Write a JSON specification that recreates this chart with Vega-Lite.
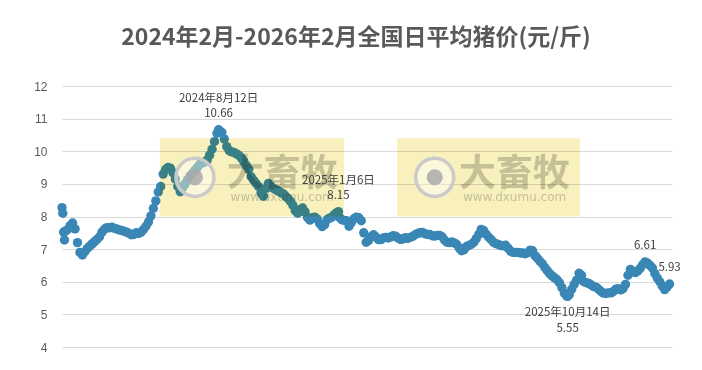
{
  "$schema": "https://vega.github.io/schema/vega-lite/v6.json",
  "width": 610,
  "height": 261,
  "autosize": {"type": "none"},
  "padding": {"left": 62, "top": 86, "right": 30, "bottom": 23},
  "background": "white",
  "config": {"view": {"stroke": null}, "font": "Noto Sans CJK SC"},
  "title": {
    "text": "2024年2月-2026年2月全国日平均猪价(元/斤)",
    "font": "Noto Sans CJK SC",
    "fontSize": 23,
    "fontWeight": "bold",
    "color": "#595959",
    "anchor": "middle",
    "offset": 30,
    "dx": -11
  },
  "datasets": {
    "prices": [
      {"date":"2024-02-02","price":8.27},{"date":"2024-02-03","price":8.10},{"date":"2024-02-04","price":7.52},{"date":"2024-02-05","price":7.28},
      {"date":"2024-02-06","price":7.55},{"date":"2024-02-09","price":7.60},{"date":"2024-02-12","price":7.72},{"date":"2024-02-15","price":7.80},
      {"date":"2024-02-18","price":7.62},{"date":"2024-02-21","price":7.20},{"date":"2024-02-24","price":6.90},{"date":"2024-02-27","price":6.82},
      {"date":"2024-03-01","price":6.92},{"date":"2024-03-04","price":7.02},{"date":"2024-03-07","price":7.09},{"date":"2024-03-10","price":7.16},
      {"date":"2024-03-13","price":7.23},{"date":"2024-03-16","price":7.30},{"date":"2024-03-19","price":7.38},{"date":"2024-03-22","price":7.52},
      {"date":"2024-03-25","price":7.61},{"date":"2024-03-28","price":7.66},{"date":"2024-03-31","price":7.65},{"date":"2024-04-03","price":7.67},
      {"date":"2024-04-06","price":7.64},{"date":"2024-04-09","price":7.62},{"date":"2024-04-12","price":7.59},{"date":"2024-04-15","price":7.57},
      {"date":"2024-04-18","price":7.55},{"date":"2024-04-21","price":7.52},{"date":"2024-04-24","price":7.49},{"date":"2024-04-27","price":7.44},
      {"date":"2024-04-30","price":7.45},{"date":"2024-05-03","price":7.50},{"date":"2024-05-06","price":7.48},{"date":"2024-05-09","price":7.52},
      {"date":"2024-05-12","price":7.60},{"date":"2024-05-15","price":7.70},{"date":"2024-05-18","price":7.83},{"date":"2024-05-21","price":8.02},
      {"date":"2024-05-24","price":8.25},{"date":"2024-05-27","price":8.48},{"date":"2024-05-30","price":8.75},{"date":"2024-06-02","price":8.92},
      {"date":"2024-06-05","price":9.30},{"date":"2024-06-08","price":9.44},{"date":"2024-06-11","price":9.50},{"date":"2024-06-14","price":9.48},
      {"date":"2024-06-17","price":9.34},{"date":"2024-06-20","price":9.15},{"date":"2024-06-23","price":8.92},{"date":"2024-06-26","price":8.76},
      {"date":"2024-06-29","price":8.88},{"date":"2024-07-02","price":9.00},{"date":"2024-07-05","price":9.13},{"date":"2024-07-08","price":9.25},
      {"date":"2024-07-11","price":9.32},{"date":"2024-07-14","price":9.42},{"date":"2024-07-17","price":9.50},{"date":"2024-07-20","price":9.60},
      {"date":"2024-07-23","price":9.64},{"date":"2024-07-26","price":9.67},{"date":"2024-07-29","price":9.73},{"date":"2024-08-01","price":9.88},
      {"date":"2024-08-04","price":10.06},{"date":"2024-08-07","price":10.30},{"date":"2024-08-10","price":10.55},{"date":"2024-08-12","price":10.66},
      {"date":"2024-08-13","price":10.63},{"date":"2024-08-16","price":10.58},{"date":"2024-08-19","price":10.38},{"date":"2024-08-22","price":10.14},
      {"date":"2024-08-25","price":10.02},{"date":"2024-08-28","price":9.98},{"date":"2024-08-31","price":9.96},{"date":"2024-09-03","price":9.92},
      {"date":"2024-09-06","price":9.87},{"date":"2024-09-09","price":9.79},{"date":"2024-09-12","price":9.68},{"date":"2024-09-15","price":9.56},
      {"date":"2024-09-18","price":9.45},{"date":"2024-09-21","price":9.22},{"date":"2024-09-24","price":9.11},{"date":"2024-09-27","price":9.01},
      {"date":"2024-09-30","price":8.92},{"date":"2024-10-03","price":8.72},{"date":"2024-10-06","price":8.62},{"date":"2024-10-09","price":8.86},
      {"date":"2024-10-12","price":9.01},{"date":"2024-10-15","price":8.93},{"date":"2024-10-18","price":8.87},{"date":"2024-10-21","price":8.82},
      {"date":"2024-10-24","price":8.79},{"date":"2024-10-27","price":8.74},{"date":"2024-10-30","price":8.70},{"date":"2024-11-02","price":8.63},
      {"date":"2024-11-05","price":8.55},{"date":"2024-11-08","price":8.47},{"date":"2024-11-11","price":8.35},{"date":"2024-11-14","price":8.18},
      {"date":"2024-11-17","price":8.10},{"date":"2024-11-20","price":8.22},{"date":"2024-11-23","price":8.26},{"date":"2024-11-26","price":8.14},
      {"date":"2024-11-29","price":7.97},{"date":"2024-12-02","price":7.89},{"date":"2024-12-05","price":7.96},{"date":"2024-12-08","price":7.98},
      {"date":"2024-12-11","price":7.92},{"date":"2024-12-14","price":7.78},{"date":"2024-12-17","price":7.69},{"date":"2024-12-20","price":7.75},
      {"date":"2024-12-23","price":7.90},{"date":"2024-12-26","price":7.95},{"date":"2024-12-29","price":7.98},{"date":"2025-01-01","price":8.06},
      {"date":"2025-01-04","price":8.12},{"date":"2025-01-06","price":8.15},{"date":"2025-01-07","price":7.98},{"date":"2025-01-10","price":7.90},
      {"date":"2025-01-13","price":7.88},{"date":"2025-01-16","price":7.87},{"date":"2025-01-19","price":7.70},{"date":"2025-01-22","price":7.82},
      {"date":"2025-01-25","price":7.93},{"date":"2025-01-28","price":7.98},{"date":"2025-01-31","price":7.96},{"date":"2025-02-03","price":7.87},
      {"date":"2025-02-06","price":7.50},{"date":"2025-02-09","price":7.21},{"date":"2025-02-12","price":7.27},{"date":"2025-02-15","price":7.38},
      {"date":"2025-02-18","price":7.44},{"date":"2025-02-21","price":7.37},{"date":"2025-02-24","price":7.29},{"date":"2025-02-27","price":7.29},
      {"date":"2025-03-02","price":7.34},{"date":"2025-03-05","price":7.36},{"date":"2025-03-08","price":7.34},{"date":"2025-03-11","price":7.37},
      {"date":"2025-03-14","price":7.41},{"date":"2025-03-17","price":7.40},{"date":"2025-03-20","price":7.34},{"date":"2025-03-23","price":7.30},
      {"date":"2025-03-26","price":7.31},{"date":"2025-03-29","price":7.35},{"date":"2025-04-01","price":7.33},{"date":"2025-04-04","price":7.36},
      {"date":"2025-04-07","price":7.39},{"date":"2025-04-10","price":7.44},{"date":"2025-04-13","price":7.48},{"date":"2025-04-16","price":7.50},
      {"date":"2025-04-19","price":7.51},{"date":"2025-04-22","price":7.47},{"date":"2025-04-25","price":7.45},{"date":"2025-04-28","price":7.45},
      {"date":"2025-05-01","price":7.41},{"date":"2025-05-04","price":7.40},{"date":"2025-05-07","price":7.42},{"date":"2025-05-10","price":7.42},
      {"date":"2025-05-13","price":7.38},{"date":"2025-05-16","price":7.28},{"date":"2025-05-19","price":7.21},{"date":"2025-05-22","price":7.20},
      {"date":"2025-05-25","price":7.22},{"date":"2025-05-28","price":7.19},{"date":"2025-05-31","price":7.14},{"date":"2025-06-03","price":7.04},
      {"date":"2025-06-06","price":6.95},{"date":"2025-06-09","price":6.98},{"date":"2025-06-12","price":7.08},{"date":"2025-06-15","price":7.11},
      {"date":"2025-06-18","price":7.15},{"date":"2025-06-21","price":7.21},{"date":"2025-06-24","price":7.32},{"date":"2025-06-27","price":7.45},
      {"date":"2025-06-30","price":7.60},{"date":"2025-07-03","price":7.57},{"date":"2025-07-06","price":7.46},{"date":"2025-07-09","price":7.37},
      {"date":"2025-07-12","price":7.30},{"date":"2025-07-15","price":7.21},{"date":"2025-07-18","price":7.17},{"date":"2025-07-21","price":7.14},
      {"date":"2025-07-24","price":7.11},{"date":"2025-07-27","price":7.10},{"date":"2025-07-30","price":7.12},{"date":"2025-08-02","price":7.03},
      {"date":"2025-08-05","price":6.94},{"date":"2025-08-08","price":6.90},{"date":"2025-08-11","price":6.90},{"date":"2025-08-14","price":6.90},
      {"date":"2025-08-17","price":6.88},{"date":"2025-08-20","price":6.88},{"date":"2025-08-23","price":6.86},{"date":"2025-08-26","price":6.89},
      {"date":"2025-08-29","price":6.97},{"date":"2025-09-01","price":6.95},{"date":"2025-09-04","price":6.80},{"date":"2025-09-07","price":6.72},
      {"date":"2025-09-10","price":6.63},{"date":"2025-09-13","price":6.55},{"date":"2025-09-16","price":6.44},{"date":"2025-09-19","price":6.34},
      {"date":"2025-09-22","price":6.25},{"date":"2025-09-25","price":6.18},{"date":"2025-09-28","price":6.12},{"date":"2025-10-01","price":6.06},
      {"date":"2025-10-04","price":5.97},{"date":"2025-10-07","price":5.82},{"date":"2025-10-10","price":5.65},{"date":"2025-10-13","price":5.56},
      {"date":"2025-10-14","price":5.55},{"date":"2025-10-16","price":5.60},{"date":"2025-10-19","price":5.77},{"date":"2025-10-22","price":5.92},
      {"date":"2025-10-25","price":6.05},{"date":"2025-10-28","price":6.26},{"date":"2025-10-31","price":6.20},{"date":"2025-11-03","price":6.00},
      {"date":"2025-11-06","price":5.97},{"date":"2025-11-09","price":5.95},{"date":"2025-11-12","price":5.90},{"date":"2025-11-15","price":5.85},
      {"date":"2025-11-18","price":5.83},{"date":"2025-11-21","price":5.77},{"date":"2025-11-24","price":5.70},{"date":"2025-11-27","price":5.65},
      {"date":"2025-11-30","price":5.64},{"date":"2025-12-03","price":5.66},{"date":"2025-12-06","price":5.66},{"date":"2025-12-09","price":5.70},
      {"date":"2025-12-12","price":5.77},{"date":"2025-12-15","price":5.79},{"date":"2025-12-18","price":5.75},{"date":"2025-12-21","price":5.79},
      {"date":"2025-12-24","price":5.92},{"date":"2025-12-27","price":6.20},{"date":"2025-12-30","price":6.38},{"date":"2026-01-02","price":6.31},
      {"date":"2026-01-05","price":6.28},{"date":"2026-01-08","price":6.33},{"date":"2026-01-11","price":6.41},{"date":"2026-01-14","price":6.52},
      {"date":"2026-01-17","price":6.61},{"date":"2026-01-20","price":6.57},{"date":"2026-01-23","price":6.50},{"date":"2026-01-26","price":6.42},
      {"date":"2026-01-29","price":6.25},{"date":"2026-02-01","price":6.11},{"date":"2026-02-04","price":6.00},{"date":"2026-02-07","price":5.87},
      {"date":"2026-02-10","price":5.76},{"date":"2026-02-13","price":5.84},{"date":"2026-02-16","price":5.93}
    ],
    "notes": [
      {"date":"2024-08-12","price":10.66,"label":"2024年8月12日","kind":"above"},
      {"date":"2025-01-06","price":8.15,"label":"2025年1月6日","kind":"above"},
      {"date":"2025-10-14","price":5.55,"label":"2025年10月14日","kind":"below"},
      {"date":"2026-01-17","price":6.61,"label":"","kind":"value"},
      {"date":"2026-02-16","price":5.93,"label":"","kind":"value"}
    ],
    "boxes": [
      {"date":"2024-06-01","end":"2025-01-13","top":10.4,"bottom":8.0},
      {"date":"2025-03-19","end":"2025-10-29","top":10.4,"bottom":8.0}
    ],
    "logos": [
      {"date":"2024-07-14","price":9.2},
      {"date":"2025-05-04","price":9.2}
    ],
    "words": [
      {"date":"2024-10-29","price":9.27},
      {"date":"2025-08-10","price":9.27}
    ]
  },
  "encoding": {
    "x": {
      "field": "date", "type": "temporal",
      "scale": {"domain": [{"year":2024,"month":2,"date":2,"utc":true},{"year":2026,"month":2,"date":19,"utc":true}]},
      "axis": null
    },
    "y": {
      "field": "price", "type": "quantitative",
      "scale": {"domain": [4, 12], "nice": false, "zero": false},
      "axis": {
        "values": [4,5,6,7,8,9,10,11,12],
        "title": null, "domain": false, "ticks": false,
        "grid": true, "gridColor": "#d9d9d9", "gridWidth": 1,
        "labelColor": "#595959", "labelFontSize": 12, "labelFont": "Liberation Sans",
        "labelPadding": 15
      }
    }
  },
  "layer": [
    {
      "data": {"name": "prices"},
      "mark": {"type": "point", "filled": true, "shape": "circle", "size": 88, "color": "#3a87b5", "opacity": 1}
    },
    {
      "data": {"name": "boxes"},
      "mark": {"type": "rect", "color": "#f8f1bd", "blend": "multiply"},
      "encoding": {
        "x2": {"field": "end"},
        "y": {"field": "top", "type": "quantitative"},
        "y2": {"field": "bottom"}
      }
    },
    {
      "data": {"name": "logos"},
      "mark": {"type": "point", "shape": "circle", "size": 1450, "filled": true, "fill": "white", "fillOpacity": 0.45, "stroke": "#cacaca", "strokeWidth": 3.5, "strokeOpacity": 1}
    },
    {
      "data": {"name": "logos"},
      "mark": {"type": "point", "shape": "circle", "size": 260, "filled": true, "color": "#a9a9a9", "opacity": 0.85}
    },
    {
      "data": {"name": "words"},
      "mark": {"type": "text", "text": "大畜牧", "font": "Noto Sans CJK SC", "fontWeight": "bold", "fontSize": 37, "color": "#cbcbcb", "blend": "multiply", "baseline": "middle"}
    },
    {
      "data": {"name": "words"},
      "mark": {"type": "text", "text": "www.dxumu.com", "font": "DejaVu Sans", "fontSize": 12, "color": "#cccccc", "blend": "multiply", "baseline": "middle", "dy": 22}
    },
    {
      "data": {"name": "notes"},
      "transform": [{"filter": "datum.kind == 'above'"}],
      "mark": {"type": "text", "dy": -31, "fontSize": 11.5, "color": "#404040", "font": "Noto Sans CJK SC"},
      "encoding": {"text": {"field": "label"}}
    },
    {
      "data": {"name": "notes"},
      "transform": [{"filter": "datum.kind != 'below'"}],
      "mark": {"type": "text", "dy": -16, "fontSize": 11.5, "color": "#404040", "font": "Noto Sans CJK SC"},
      "encoding": {"text": {"field": "price", "format": ".2f"}}
    },
    {
      "data": {"name": "notes"},
      "transform": [{"filter": "datum.kind == 'below'"}],
      "mark": {"type": "text", "dy": 17, "fontSize": 11.5, "color": "#404040", "font": "Noto Sans CJK SC"},
      "encoding": {"text": {"field": "label"}}
    },
    {
      "data": {"name": "notes"},
      "transform": [{"filter": "datum.kind == 'below'"}],
      "mark": {"type": "text", "dy": 33, "fontSize": 11.5, "color": "#404040", "font": "Noto Sans CJK SC"},
      "encoding": {"text": {"field": "price", "format": ".2f"}}
    }
  ]
}
